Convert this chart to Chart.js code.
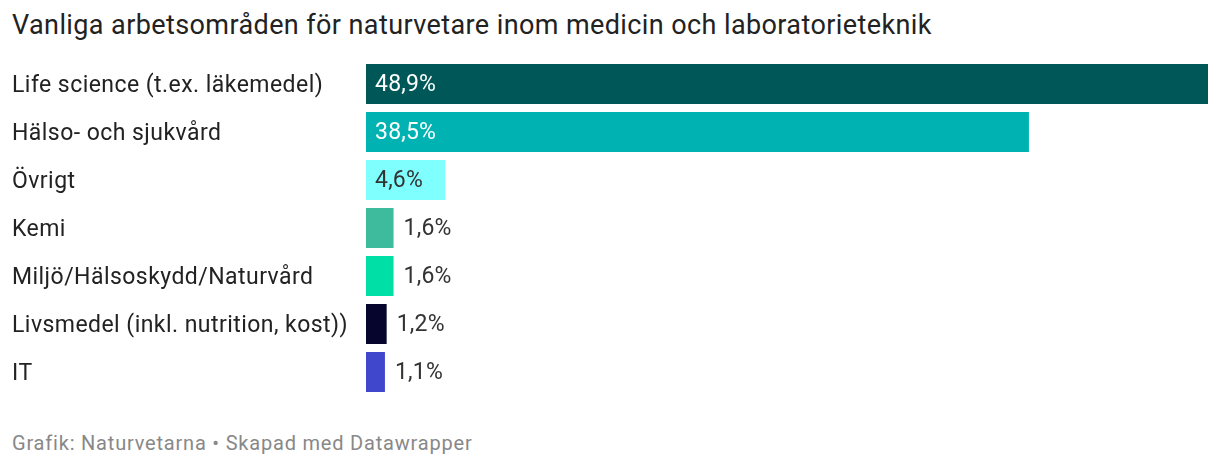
<!DOCTYPE html>
<html>
<head>
<meta charset="utf-8">
<script src="https://cdn.jsdelivr.net/npm/chart.js@4"></script>
<style>
  html, body { margin: 0; padding: 0; background: #fff; width: 1220px; height: 468px; overflow: hidden; font-family: Roboto, sans-serif; }
  #title { position: absolute; left: 12px; top: 10px; font-size: 27px; line-height: 1.172; letter-spacing: 0.4px; color: #222; white-space: nowrap; }
  #wrap { position: absolute; left: 12px; top: 60px; width: 1196px; height: 336px; }
  #footer { position: absolute; left: 12px; top: 432px; font-size: 20px; line-height: 1.172; letter-spacing: 0.8px; color: #888; white-space: nowrap; }
</style>
</head>
<body>
<div id="title">Vanliga arbetsområden för naturvetare inom medicin och laboratorieteknik</div>
<div id="wrap"><canvas id="c"></canvas></div>
<div id="footer">Grafik: Naturvetarna • Skapad med Datawrapper</div>
<script>
const categories = [
  "Life science (t.ex. läkemedel)",
  "Hälso- och sjukvård",
  "Övrigt",
  "Kemi",
  "Miljö/Hälsoskydd/Naturvård",
  "Livsmedel (inkl. nutrition, kost))",
  "IT"
];
const values = [48.9, 38.5, 4.6, 1.6, 1.6, 1.2, 1.1];
const barColors = ["#005757", "#00b3b2", "#80ffff", "#3dbb9c", "#00e0a6", "#06052e", "#4047cc"];

function fmt(v) { return v.toFixed(1).replace('.', ',') + '%'; }
function isLight(hex) {
  const r = parseInt(hex.substr(1,2),16), g = parseInt(hex.substr(3,2),16), b = parseInt(hex.substr(5,2),16);
  return (0.299*r + 0.587*g + 0.114*b) > 150;
}

const spacing = {
  id: 'spacing',
  beforeDraw(chart) { chart.ctx.letterSpacing = '0.45px'; }
};

const valueLabels = {
  id: 'valueLabels',
  afterDatasetsDraw(chart) {
    const ctx = chart.ctx;
    const meta = chart.getDatasetMeta(0);
    ctx.save();
    ctx.letterSpacing = '0.2px';
    ctx.font = '23px Roboto, sans-serif';
    ctx.textBaseline = 'middle';
    ctx.textAlign = 'left';
    meta.data.forEach((bar, i) => {
      const txt = fmt(values[i]);
      const tw = ctx.measureText(txt).width;
      const left = bar.base, right = bar.x;
      const w = right - left;
      if (w > tw + 14) {
        ctx.fillStyle = isLight(barColors[i]) ? '#333333' : '#ffffff';
        ctx.fillText(txt, left + 9, bar.y + 1);
      } else {
        ctx.fillStyle = '#333333';
        ctx.fillText(txt, right + 10, bar.y + 1);
      }
    });
    ctx.restore();
  }
};

new Chart(document.getElementById('c'), {
  type: 'bar',
  data: {
    labels: categories,
    datasets: [{
      data: values,
      backgroundColor: barColors,
      borderWidth: 0,
      barPercentage: 40/48,
      categoryPercentage: 1
    }]
  },
  options: {
    indexAxis: 'y',
    responsive: true,
    maintainAspectRatio: false,
    animation: false,
    layout: { padding: 0 },
    plugins: { legend: { display: false }, tooltip: { enabled: false } },
    scales: {
      x: { display: false, min: 0, max: 48.9, grid: { display: false } },
      y: {
        grid: { display: false, drawTicks: false },
        border: { display: false },
        ticks: {
          crossAlign: 'far',
          padding: 0,
          labelOffset: 2,
          color: '#222',
          font: { family: 'Roboto, sans-serif', size: 23 }
        },
        afterFit(scale) { scale.width = 354; scale.paddingTop = 0; scale.paddingBottom = 0; }
      }
    }
  },
  plugins: [spacing, valueLabels]
});
</script>
</body>
</html>
